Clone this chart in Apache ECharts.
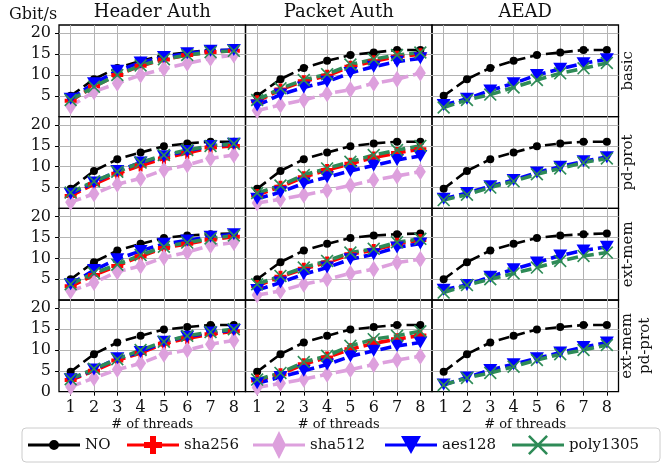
<!DOCTYPE html>
<html>
<head>
<meta charset="utf-8">
<title>Throughput by threads</title>
<script src="https://cdn.jsdelivr.net/npm/echarts@6/dist/echarts.min.js"></script>
<style>
html, body { margin: 0; padding: 0; background: #fff; }
#chart { width: 669px; height: 465px; }
</style>
</head>
<body>
<div id="chart"></div>
<script>
// x values and labels
const threads = [1, 2, 3, 4, 5, 6, 7, 8]
const columnTitles = ['Header Auth', 'Packet Auth', 'AEAD']
const rowTitles = ['basic', 'pd-prot', 'ext-mem', 'ext-mem\npd-prot']
const yTickValues = [5, 10, 15, 20]
const seriesNames = ['NO', 'sha256', 'sha512', 'aes128', 'poly1305']

// basic
const basicNO = [5.0, 9.0, 11.7, 13.4, 14.8, 15.4, 16.0, 16.0]
const basicHeaderSha256 = [3.8, 7.3, 10.0, 12.2, 13.7, 14.8, 15.5, 15.8]
const basicHeaderSha512 = [2.5, 6.0, 8.0, 10.0, 11.5, 12.8, 14.0, 14.8]
const basicHeaderAes128 = [4.3, 8.0, 11.0, 13.0, 14.3, 15.2, 15.8, 16.0]
const basicHeaderPoly1305 = [4.0, 7.2, 10.0, 12.3, 13.8, 14.8, 15.5, 15.8]
const basicPacketSha256 = [3.7, 6.5, 8.5, 9.8, 12.0, 13.3, 14.4, 15.0]
const basicPacketSha512 = [1.5, 2.8, 4.0, 5.5, 6.5, 8.0, 9.0, 10.5]
const basicPacketAes128 = [2.7, 5.3, 7.0, 8.4, 10.5, 12.0, 13.2, 14.0]
const basicPacketPoly1305 = [4.0, 6.8, 8.8, 10.2, 12.5, 13.8, 14.8, 15.4]
const basicAeadAes128 = [2.8, 4.3, 6.3, 8.0, 10.0, 11.5, 12.8, 13.8]
const basicAeadPoly1305 = [2.2, 4.0, 5.3, 7.0, 8.8, 10.4, 11.6, 12.9]

// pd-prot
const pdNO = [4.7, 9.0, 11.8, 13.4, 14.9, 15.6, 16.0, 16.0]
const pdHeaderSha256 = [3.0, 5.8, 8.3, 10.3, 12.0, 13.3, 14.6, 15.0]
const pdHeaderSha512 = [1.5, 3.5, 5.8, 7.2, 9.2, 10.4, 12.0, 12.8]
const pdHeaderAes128 = [3.5, 6.2, 9.0, 11.0, 12.5, 13.8, 15.0, 15.5]
const pdHeaderPoly1305 = [3.8, 6.5, 8.8, 11.0, 12.8, 14.0, 15.0, 15.5]
const pdPacketSha256 = [3.2, 5.2, 7.5, 9.2, 10.7, 12.2, 13.3, 14.2]
const pdPacketSha512 = [1.3, 2.2, 3.2, 4.3, 5.5, 6.8, 7.8, 8.8]
const pdPacketAes128 = [2.3, 3.9, 6.0, 7.5, 9.0, 10.3, 11.6, 12.6]
const pdPacketPoly1305 = [3.7, 5.5, 8.0, 9.6, 11.2, 12.8, 14.0, 15.0]
const pdAeadAes128 = [2.3, 3.7, 5.3, 6.8, 8.6, 10.0, 11.3, 12.3]
const pdAeadPoly1305 = [2.0, 3.3, 5.0, 6.5, 8.2, 9.6, 11.0, 12.0]

// ext-mem
const extNO = [5.0, 9.1, 11.9, 13.5, 14.9, 15.5, 15.8, 16.0]
const extHeaderSha256 = [3.3, 6.0, 8.2, 10.5, 12.5, 13.5, 14.5, 15.2]
const extHeaderSha512 = [2.2, 4.2, 6.8, 8.2, 10.2, 11.5, 13.1, 13.8]
const extHeaderAes128 = [3.8, 7.2, 9.8, 11.8, 13.5, 14.3, 15.2, 15.8]
const extHeaderPoly1305 = [3.8, 6.5, 8.5, 10.8, 12.8, 13.8, 14.8, 15.5]
const extPacketSha256 = [3.4, 5.6, 7.5, 9.0, 11.0, 12.0, 13.5, 14.4]
const extPacketSha512 = [1.2, 2.2, 3.8, 5.0, 6.4, 7.4, 9.0, 9.8]
const extPacketAes128 = [2.4, 4.2, 6.2, 7.8, 9.8, 11.0, 12.6, 13.6]
const extPacketPoly1305 = [3.8, 5.8, 7.8, 9.4, 11.4, 12.3, 13.9, 14.7]
const extAeadAes128 = [2.5, 3.6, 5.6, 7.4, 9.0, 10.7, 11.9, 12.8]
const extAeadPoly1305 = [1.8, 3.6, 5.0, 6.4, 7.8, 9.4, 10.6, 11.4]

// ext-mem + pd-prot
const bothNO = [4.8, 9.0, 11.8, 13.4, 14.9, 15.5, 16.0, 16.0]
const bothHeaderSha256 = [2.8, 5.0, 7.5, 9.3, 11.5, 12.8, 13.8, 14.5]
const bothHeaderSha512 = [1.2, 3.3, 5.3, 6.8, 9.0, 10.0, 11.4, 12.3]
const bothHeaderAes128 = [3.0, 5.3, 8.0, 9.5, 12.0, 13.2, 14.2, 14.8]
const bothHeaderPoly1305 = [3.0, 5.5, 7.8, 10.0, 12.0, 13.4, 14.3, 15.0]
const bothPacketSha256 = [2.7, 4.2, 6.6, 8.2, 10.2, 11.6, 12.6, 13.5]
const bothPacketSha512 = [1.0, 2.0, 3.0, 4.2, 5.3, 6.5, 7.6, 8.5]
const bothPacketAes128 = [2.0, 3.5, 5.0, 6.5, 8.5, 9.8, 11.0, 11.8]
const bothPacketPoly1305 = [2.9, 4.5, 7.1, 8.6, 11.0, 12.6, 13.4, 14.5]
const bothAeadAes128 = [1.7, 3.4, 5.2, 6.6, 8.0, 9.4, 10.7, 11.8]
const bothAeadPoly1305 = [1.6, 3.3, 4.5, 6.0, 7.6, 9.0, 10.0, 11.2]

// panels[row][col] -> series name -> values
const panels = [
  [
    { NO: basicNO, sha256: basicHeaderSha256, sha512: basicHeaderSha512, aes128: basicHeaderAes128, poly1305: basicHeaderPoly1305 },
    { NO: basicNO, sha256: basicPacketSha256, sha512: basicPacketSha512, aes128: basicPacketAes128, poly1305: basicPacketPoly1305 },
    { NO: basicNO, aes128: basicAeadAes128, poly1305: basicAeadPoly1305 }
  ],
  [
    { NO: pdNO, sha256: pdHeaderSha256, sha512: pdHeaderSha512, aes128: pdHeaderAes128, poly1305: pdHeaderPoly1305 },
    { NO: pdNO, sha256: pdPacketSha256, sha512: pdPacketSha512, aes128: pdPacketAes128, poly1305: pdPacketPoly1305 },
    { NO: pdNO, aes128: pdAeadAes128, poly1305: pdAeadPoly1305 }
  ],
  [
    { NO: extNO, sha256: extHeaderSha256, sha512: extHeaderSha512, aes128: extHeaderAes128, poly1305: extHeaderPoly1305 },
    { NO: extNO, sha256: extPacketSha256, sha512: extPacketSha512, aes128: extPacketAes128, poly1305: extPacketPoly1305 },
    { NO: extNO, aes128: extAeadAes128, poly1305: extAeadPoly1305 }
  ],
  [
    { NO: bothNO, sha256: bothHeaderSha256, sha512: bothHeaderSha512, aes128: bothHeaderAes128, poly1305: bothHeaderPoly1305 },
    { NO: bothNO, sha256: bothPacketSha256, sha512: bothPacketSha512, aes128: bothPacketAes128, poly1305: bothPacketPoly1305 },
    { NO: bothNO, aes128: bothAeadAes128, poly1305: bothAeadPoly1305 }
  ]
]

const FONT = "'DejaVu Serif', serif"
const plusPath = 'path://M-1,-3L1,-3L1,-1L3,-1L3,1L1,1L1,3L-1,3L-1,1L-3,1L-3,-1L-1,-1Z'
const triPath = 'path://M0,0L20,0L10,17Z'
const xPath = 'path://M0,1.8L1.8,0L10,8.2L18.2,0L20,1.8L11.8,10L20,18.2L18.2,20L10,11.8L1.8,20L0,18.2L8.2,10Z'

const styles = {
  NO: { color: '#000000', symbol: 'circle', symbolSize: 8, width: 2.6 },
  sha256: { color: '#ff0000', symbol: plusPath, symbolSize: 12, width: 3.6 },
  sha512: { color: '#dda0dd', symbol: 'diamond', symbolSize: [11, 17], width: 3.6 },
  aes128: { color: '#0000ff', symbol: triPath, symbolSize: [14, 12], width: 3.6 },
  poly1305: { color: '#2e8b57', symbol: xPath, symbolSize: 13, width: 3.6 }
}

// legend icons: line + marker in one path, 52 x 28 box, centred on y = 14
// (tiny corner specks pin the bounding box so every item lines up)
const iconBox = 'M0,0L0.01,0L0,0.01Z M52,28L51.99,28L52,27.99Z '
const iconLine = 'M0,12.5L52,12.5L52,15.5L0,15.5Z '
const legendIcons = {
  NO: 'path://' + iconBox + iconLine + 'M21,14A5,5 0 1,1 31,14A5,5 0 1,1 21,14Z',
  sha256: 'path://' + iconBox + iconLine + 'M23,5L29,5L29,11L35,11L35,17L29,17L29,23L23,23L23,17L17,17L17,11L23,11Z',
  sha512: 'path://' + iconBox + iconLine + 'M26,0L33,14L26,28L19,14Z',
  aes128: 'path://' + iconBox + iconLine + 'M16,5L36,5L26,23Z',
  poly1305: 'path://' + iconBox + iconLine + 'M16,5.8L17.8,4L26,12.2L34.2,4L36,5.8L27.8,14L36,22.2L34.2,24L26,15.8L17.8,24L16,22.2L24.2,14Z'
}
const legendLeft = [28, 127, 253, 385, 512]

const colLeft = [59, 245.5, 432]
const colWidth = 186.5
const rowTop = [25, 116.7, 208.4, 300]
const rowHeight = 91.7

const option = {
  animation: false,
  grid: [],
  xAxis: [],
  yAxis: [],
  series: [],
  legend: [],
  graphic: []
}

for (let r = 0; r < 4; r++) {
  for (let c = 0; c < 3; c++) {
    const idx = r * 3 + c
    const bottomRow = r === 3
    option.grid.push({
      left: colLeft[c],
      top: rowTop[r],
      width: colWidth,
      height: rowHeight,
      show: true,
      borderColor: '#000',
      borderWidth: 1.3,
      backgroundColor: 'transparent'
    })
    option.xAxis.push({
      type: 'value',
      gridIndex: idx,
      min: 0.5,
      max: 8.5,
      axisLine: { show: false },
      axisTick: { show: bottomRow, customValues: threads, length: 4, inside: false, lineStyle: { color: '#000' } },
      axisLabel: { show: bottomRow, customValues: threads, margin: 8, color: '#111', fontSize: 16, fontFamily: FONT },
      splitLine: { show: true, lineStyle: { color: '#b4b4b4', width: 1 } },
      name: bottomRow ? '# of threads' : '',
      nameLocation: 'middle',
      nameGap: 26,
      nameTextStyle: { color: '#111', fontSize: 13, fontFamily: FONT }
    })
    option.yAxis.push({
      type: 'value',
      gridIndex: idx,
      min: 0,
      max: 22,
      axisLine: { show: false },
      axisTick: { show: c === 0, customValues: yTickValues, length: 4, lineStyle: { color: '#000' } },
      axisLabel: {
        show: c === 0,
        customValues: bottomRow ? [0].concat(yTickValues) : yTickValues,
        margin: 8,
        color: '#111',
        fontSize: 16,
        fontFamily: FONT
      },
      splitLine: { show: true, lineStyle: { color: '#b4b4b4', width: 1 } }
    })
    const panel = panels[r][c]
    seriesNames.forEach(name => {
      if (!panel[name]) return
      const st = styles[name]
      option.series.push({
        type: 'line',
        name: name,
        xAxisIndex: idx,
        yAxisIndex: idx,
        data: threads.map((t, i) => [t, panel[name][i]]),
        symbol: st.symbol,
        symbolSize: st.symbolSize,
        showAllSymbol: true,
        color: st.color,
        itemStyle: { color: st.color },
        lineStyle: { color: st.color, width: st.width, type: [11, 5] },
        emphasis: { disabled: true }
      })
    })
  }
}

seriesNames.forEach((name, i) => {
  option.legend.push({
    data: [{ name: name, icon: legendIcons[name] }],
    left: legendLeft[i],
    top: 431,
    padding: 0,
    itemWidth: 52,
    itemHeight: 28,
    itemGap: 0,
    selectedMode: false,
    textStyle: { color: '#111', fontSize: 15, fontFamily: FONT }
  })
})

// legend frame
option.graphic.push({
  type: 'rect',
  shape: { x: 22, y: 428, width: 638, height: 34, r: 4 },
  style: { fill: 'none', stroke: '#cccccc', lineWidth: 1 },
  z: -1
})

// column titles
columnTitles.forEach((t, c) => {
  option.graphic.push({
    type: 'text',
    x: colLeft[c] + colWidth / 2,
    y: 12,
    style: { text: t, fontSize: 18, fontFamily: FONT, fill: '#111', textAlign: 'center', textVerticalAlign: 'middle' }
  })
})

// unit label
option.graphic.push({
  type: 'text',
  x: 33,
  y: 15,
  style: { text: 'Gbit/s', fontSize: 16, fontFamily: FONT, fill: '#111', textAlign: 'center', textVerticalAlign: 'middle' }
})

// row titles, rotated on the right
rowTitles.forEach((t, r) => {
  option.graphic.push({
    type: 'text',
    x: r === 3 ? 636 : 628,
    y: rowTop[r] + rowHeight / 2,
    rotation: Math.PI / 2,
    style: { text: t, fontSize: 15, lineHeight: 18, fontFamily: FONT, fill: '#111', textAlign: 'center', textVerticalAlign: 'middle' }
  })
})

const chart = echarts.init(document.getElementById('chart'))
chart.setOption(option)
</script>
</body>
</html>
